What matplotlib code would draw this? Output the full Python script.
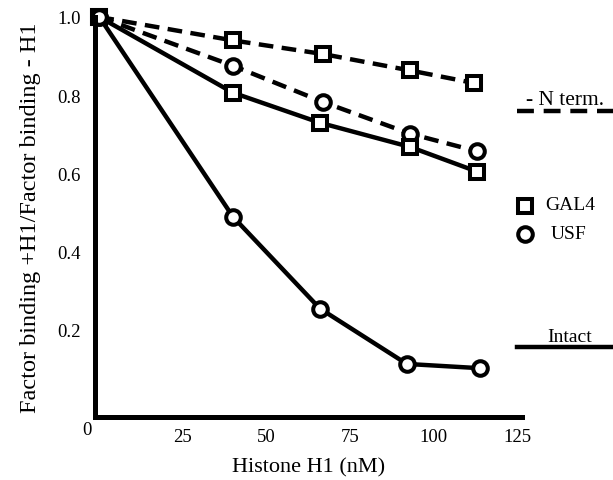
import matplotlib
matplotlib.use('Agg')
import matplotlib.pyplot as plt
from matplotlib.lines import Line2D

plt.rcParams['font.family'] = ['Liberation Serif', 'DejaVu Serif']

# histone H1 concentration (nM)
h1_gal4_nterm = [0, 40, 67, 93, 112]
h1_usf_nterm = [0, 40, 67, 93, 113]
h1_gal4_intact = [0, 40, 66, 93, 113]
h1_usf_intact = [0, 40, 66, 92, 114]

# relative factor binding
gal4_nterm = [1.0, 0.94, 0.905, 0.863, 0.831]
usf_nterm = [1.0, 0.875, 0.782, 0.701, 0.656]
gal4_intact = [1.0, 0.806, 0.729, 0.667, 0.604]
usf_intact = [1.0, 0.488, 0.253, 0.111, 0.100]

xticks = [25, 50, 75, 100, 125]
yticks = [0.2, 0.4, 0.6, 0.8, 1.0]

fig = plt.figure(figsize=(6.13, 4.81), dpi=100)
ax = fig.add_axes([95 / 613, 63 / 481, 427 / 613, 400 / 481])

lw = 3.2
ms = 10.5
mew = 2.9
dash = (0, (3.3, 1.9))

ax.plot(h1_gal4_nterm, gal4_nterm, color='black', lw=lw, linestyle=dash,
        marker='s', ms=ms, mew=mew, mfc='white', mec='black', clip_on=False)
ax.plot(h1_usf_nterm, usf_nterm, color='black', lw=lw, linestyle=dash,
        marker='o', ms=ms, mew=mew, mfc='white', mec='black', clip_on=False)
ax.plot(h1_gal4_intact, gal4_intact, color='black', lw=lw,
        marker='s', ms=ms, mew=mew, mfc='white', mec='black', clip_on=False)
ax.plot(h1_usf_intact, usf_intact, color='black', lw=lw,
        marker='o', ms=ms, mew=mew, mfc='white', mec='black', clip_on=False)

ax.set_xlim(-1.3, 126.5)
ax.set_ylim(-0.025, 1.0)
ax.set_xticks(xticks)
ax.set_xticklabels([str(t) for t in xticks])
ax.set_yticks(yticks)
ax.set_yticklabels(['%.1f' % t for t in yticks])
ax.tick_params(length=0, labelsize=13.5)
ax.tick_params(axis='x', pad=8)
ax.tick_params(axis='y', pad=10)

for s in ['top', 'right']:
    ax.spines[s].set_visible(False)
for s in ['left', 'bottom']:
    ax.spines[s].set_linewidth(3.6)

ax.text(-0.019, -0.0325, '0', transform=ax.transAxes, ha='center', va='center',
        fontsize=13.5)

ax.set_xlabel('Histone H1 (nM)', fontsize=16, labelpad=9)
ax.set_ylabel('Factor binding +H1/Factor binding - H1', fontsize=17.5, labelpad=12)

# key on the right
fig.add_artist(Line2D([0.843, 1.0], [0.767, 0.767], color='black', lw=lw,
                      linestyle=(0, (3.8, 2.2)), transform=fig.transFigure))
fig.text(0.922, 0.791, '- N term.', ha='center', va='center', fontsize=15.5)
fig.add_artist(Line2D([0.856], [0.570], marker='s', ms=ms, mew=mew, mfc='white',
                      mec='black', transform=fig.transFigure))
fig.text(0.889, 0.572, 'GAL4', ha='left', va='center', fontsize=14)
fig.add_artist(Line2D([0.856], [0.511], marker='o', ms=ms, mew=mew, mfc='white',
                      mec='black', transform=fig.transFigure))
fig.text(0.899, 0.513, 'USF', ha='left', va='center', fontsize=14)
fig.text(0.930, 0.299, 'Intact', ha='center', va='center', fontsize=14)
fig.add_artist(Line2D([0.843, 1.0], [0.277, 0.277], color='black', lw=lw,
                      transform=fig.transFigure))

fig.savefig('out.png', dpi=100)
